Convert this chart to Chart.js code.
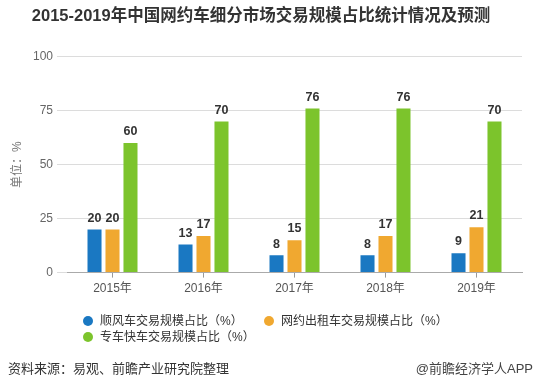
<!DOCTYPE html>
<html>
<head>
<meta charset="utf-8">
<script src="https://cdn.jsdelivr.net/npm/chart.js@4"></script>
<style>
    body { margin: 0; background: #fff; }
    #wrap { position: relative; width: 534px; height: 389px; font-family: 'Liberation Sans', 'Noto Sans CJK SC', sans-serif; }
    #chart { position: absolute; left: 0; top: 0; }
    .legend-item { position: absolute; font-size: 12px; color: #333; line-height: 16px; white-space: nowrap; }
    .legend-item i { display: inline-block; width: 10px; height: 10px; border-radius: 50%; position: absolute; left: 0; top: 3px; }
    .legend-item span { position: absolute; left: 17px; top: 0; }
    .foot { position: absolute; top: 360px; font-size: 13px; color: #333; line-height: 18px; white-space: nowrap; }
</style>
</head>
<body>
<div id="wrap">
    <canvas id="chart" width="534" height="389"></canvas>
    <div id="legend"></div>
    <div class="foot" style="left:8px;">资料来源：易观、前瞻产业研究院整理</div>
    <div class="foot" style="right:1px;color:#444;">@前瞻经济学人APP</div>
</div>
<script>
// 데이터
const years = ['2015年', '2016年', '2017年', '2018年', '2019年'];
const shunfeng = [20, 13, 8, 8, 9];      // 顺风车
const taxi = [20, 17, 15, 17, 21];       // 网约出租车
const zhuanche = [60, 70, 76, 76, 70];   // 专车快车
const seriesNames = ['顺风车交易规模占比（%）', '网约出租车交易规模占比（%）', '专车快车交易规模占比（%）'];
const seriesColors = ['#1a78c2', '#f0a830', '#7cc42c'];
const yTicks = [0, 25, 50, 75, 100];

const FONT = "'Liberation Sans', 'Noto Sans CJK SC', sans-serif";

// 막대 위 값 표시
const valueLabels = {
    id: 'valueLabels',
    afterDatasetsDraw(chart) {
        const ctx = chart.ctx;
        ctx.save();
        ctx.font = 'bold 12.5px ' + FONT;
        ctx.fillStyle = '#333';
        ctx.textAlign = 'center';
        ctx.textBaseline = 'bottom';
        chart.data.datasets.forEach((ds, i) => {
            chart.getDatasetMeta(i).data.forEach((bar, j) => {
                ctx.fillText(String(ds.data[j]), bar.x, bar.y - 5);
            });
        });
        ctx.restore();
    }
};

const datasets = [shunfeng, taxi, zhuanche].map((values, i) => ({
    label: seriesNames[i],
    data: values,
    backgroundColor: seriesColors[i],
    categoryPercentage: 0.593,
    barPercentage: 0.78
}));

new Chart(document.getElementById('chart'), {
    type: 'bar',
    data: { labels: years, datasets: datasets },
    options: {
        responsive: false,
        animation: false,
        layout: { padding: { left: 0, right: 12, top: 0, bottom: 89 } },
        scales: {
            x: {
                grid: { display: true, drawOnChartArea: false, drawTicks: true, tickLength: 5, offset: false, color: '#999' },
                border: { display: true, color: '#aaa' },
                ticks: { color: '#555', font: { size: 12, family: FONT }, padding: 4 }
            },
            y: {
                min: 0,
                max: 100,
                afterBuildTicks(axis) { axis.ticks = yTicks.map(v => ({ value: v })); },
                afterFit(axis) { axis.width = 67; },
                grid: { color: '#dcdcdc', drawTicks: true, tickLength: 10, tickColor: '#dcdcdc' },
                border: { display: false },
                ticks: { color: '#666', font: { size: 12, family: FONT }, padding: 4 },
                title: {
                    display: true,
                    text: '单位：%',
                    color: '#777',
                    font: { size: 12, family: FONT },
                    padding: { top: 10, bottom: 0 }
                }
            }
        },
        plugins: {
            legend: { display: false },
            tooltip: { enabled: false },
            title: {
                display: true,
                text: '2015-2019年中国网约车细分市场交易规模占比统计情况及预测',
                color: '#333',
                font: { size: 16.5, weight: 'bold', family: FONT },
                padding: { top: 7, bottom: 30 }
            }
        }
    },
    plugins: [valueLabels]
});

// HTML 범례
const legendBox = document.getElementById('legend');
seriesNames.forEach((name, i) => {
    const item = document.createElement('div');
    item.className = 'legend-item';
    item.style.left = (83 + (i % 2) * 181) + 'px';
    item.style.top = (313 + Math.floor(i / 2) * 16) + 'px';
    item.innerHTML = '<i style="background:' + seriesColors[i] + '"></i><span>' + name + '</span>';
    legendBox.appendChild(item);
});
</script>
</body>
</html>
